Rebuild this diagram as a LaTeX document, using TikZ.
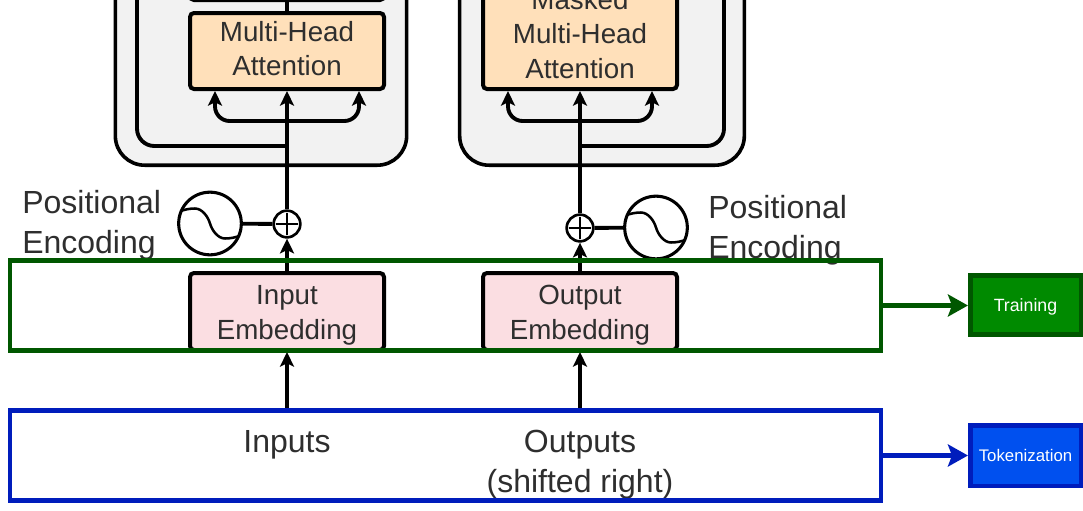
\documentclass[tikz,border=0pt]{standalone}
\usepackage{fontspec}
\setmainfont{Liberation Sans}
\usetikzlibrary{arrows.meta}
\definecolor{labelink}{HTML}{2E2E2E}
\definecolor{panelgray}{HTML}{F2F2F2}
\definecolor{attnfill}{HTML}{FFE0BA}
\definecolor{embfill}{HTML}{FBDEE2}
\definecolor{trainstroke}{HTML}{005700}
\definecolor{trainfill}{HTML}{008A00}
\definecolor{tokstroke}{HTML}{001DBC}
\definecolor{tokfill}{HTML}{0050EF}
\newcommand{\pushdown}[1]{\rule{0pt}{#1}}
\newcommand{\pushup}[1]{\rule[-#1]{0pt}{#1}}
\tikzset{
  x=0.75pt,y=-0.75pt,
  panel/.style={draw=black,fill=panelgray,line width=2.7pt,rounded corners=22pt,minimum width=218.5pt,minimum height=200pt,inner sep=0pt},
  blockbox/.style={draw=black,line width=3pt,rounded corners=3pt,minimum width=145.5pt,align=center,inner sep=0pt,text=labelink,font=\fontsize{20.8}{26}\selectfont},
  attnbox/.style={blockbox,fill=attnfill},
  embbox/.style={blockbox,fill=embfill,minimum height=57.75pt},
  flow/.style={draw=black,line width=2.9pt,-{Stealth[length=11pt,width=10.5pt,inset=2.5pt]}},
  wire/.style={draw=black,line width=2.9pt},
  bigtext/.style={inner sep=0pt,align=left,text=labelink,font=\fontsize{24}{30}\selectfont},
  wave/.style={circle,draw=black,fill=white,line width=2.3pt,minimum size=47pt,inner sep=0pt,
    path picture={\draw[line width=1.9pt] ([shift={(-30,-12)}]path picture bounding box.center)
      .. controls ([shift={(-26,-14)}]path picture bounding box.center) and ([shift={(-20,-15)}]path picture bounding box.center)
      .. ([shift={(-15,-15)}]path picture bounding box.center)
      .. controls ([shift={(-8,-15)}]path picture bounding box.center) and ([shift={(-2,-7)}]path picture bounding box.center)
      .. (path picture bounding box.center)
      .. controls ([shift={(2,7)}]path picture bounding box.center) and ([shift={(8,15)}]path picture bounding box.center)
      .. ([shift={(15,15)}]path picture bounding box.center)
      .. controls ([shift={(20,15)}]path picture bounding box.center) and ([shift={(26,14)}]path picture bounding box.center)
      .. ([shift={(30,12)}]path picture bounding box.center);}},
  adder/.style={circle,draw=black,fill=white,line width=2pt,minimum size=20pt,inner sep=0pt,
    path picture={\draw[line width=1.3pt] ([xshift=-8.5pt]path picture bounding box.center) -- ([xshift=8.5pt]path picture bounding box.center)
      ([yshift=-8.5pt]path picture bounding box.center) -- ([yshift=8.5pt]path picture bounding box.center);}},
  stagebox/.style={line width=3.4pt,fill=none,minimum width=653pt,minimum height=67.5pt,inner sep=0pt},
  stagetag/.style={line width=3.4pt,text=white,inner sep=0pt,minimum width=82.9pt},
  stagearrow/.style={line width=3.3pt,-{Stealth[length=15pt,width=16.5pt,inset=3pt]}}
}
\begin{document}
\begin{tikzpicture}
\useasboundingbox (0,0) rectangle (1083,511);
\clip (0,0) rectangle (1083,511);
% panels
\node[panel,anchor=south] (panelL) at (261,167) {};
\node[panel,anchor=south,minimum width=213.5pt] (panelR) at (602,167) {};
% feedback wires
\coordinate (feedL) at (287,146);
\coordinate (feedLtop) at (137,-5);
\coordinate (feedR) at (580,146);
\coordinate (feedRtop) at (724,-5);
\draw[wire,rounded corners=13pt] (feedL) -| (feedLtop);
\draw[wire,rounded corners=13pt] (feedR) -| (feedRtop);
% blocks
\node[attnbox,minimum height=57pt] (attnL) at (287,51) {Multi-Head\\Attention\pushup{3.75pt}};
\node[attnbox,minimum height=85.5pt] (attnR) at (580,32) {\pushdown{18pt}Masked\\Multi-Head\\Attention};
\node[blockbox,fill=attnfill,minimum height=45pt] (topL) at (287,-30) {};
\node[embbox] (embL) at (287,311.5) {\pushdown{20pt}Input\\Embedding};
\node[embbox] (embR) at (580,311.5) {\pushdown{20pt}Output\\Embedding};
% adders and waves
\node[adder] (addL) at (287,224) {};
\node[adder] (addR) at (580,228) {};
\node[wave] (waveL) at (210,223.5) {};
\node[wave] (waveR) at (656,227.5) {};
\draw[wire] (waveL) -- (addL);
\draw[wire] (waveR) -- (addR);
% upward flow
\draw[flow] (addL) -- (attnL);
\draw[flow] (addR) -- (attnR);
\draw[flow] (embL) -- (addL);
\draw[flow] (embR) -- (addR);
\draw[wire] (attnL) -- (topL);
% attention inputs
\coordinate (busL) at (287,121);
\coordinate (busR) at (580,121);
\draw[flow,rounded corners=11pt] (busL) -| ([xshift=-54pt]attnL.south);
\draw[flow,rounded corners=11pt] (busL) -| ([xshift=54pt]attnL.south);
\draw[flow,rounded corners=11pt] (busR) -| ([xshift=-54pt]attnR.south);
\draw[flow,rounded corners=11pt] (busR) -| ([xshift=54pt]attnR.south);
% labels
\node[bigtext,anchor=west] (peL) at (22,225) {Positional\\Encoding};
\node[bigtext,anchor=west] (peR) at (708,230.5) {Positional\\Encoding};
\node[bigtext,anchor=base] (inp) at (287,452) {Inputs};
\node[bigtext,align=center] (outp) at (580,465) {Outputs\\(shifted right)};
% stages
\node[stagebox,draw=tokstroke] (tokbox) at (445.5,455.5) {};
\draw[flow] (tokbox.north -| embL) -- (embL);
\draw[flow] (tokbox.north -| embR) -- (embR);
\node[stagebox,draw=trainstroke] (trainbox) at (445.5,305.5) {};
\node[stagetag,draw=trainstroke,fill=trainfill,minimum height=44.6pt,font=\fontsize{13.3}{15}\selectfont] (train) at (1025.5,305) {\pushdown{12pt}Training};
\node[stagetag,draw=tokstroke,fill=tokfill,minimum height=45.4pt,font=\fontsize{12.6}{15}\selectfont] (tok) at (1025.5,455.5) {Tokenization};
\draw[stagearrow,trainstroke] (trainbox.east) -- (trainbox.east -| train.west);
\draw[stagearrow,tokstroke] (tokbox.east) -- (tokbox.east -| tok.west);
\end{tikzpicture}
\end{document}
